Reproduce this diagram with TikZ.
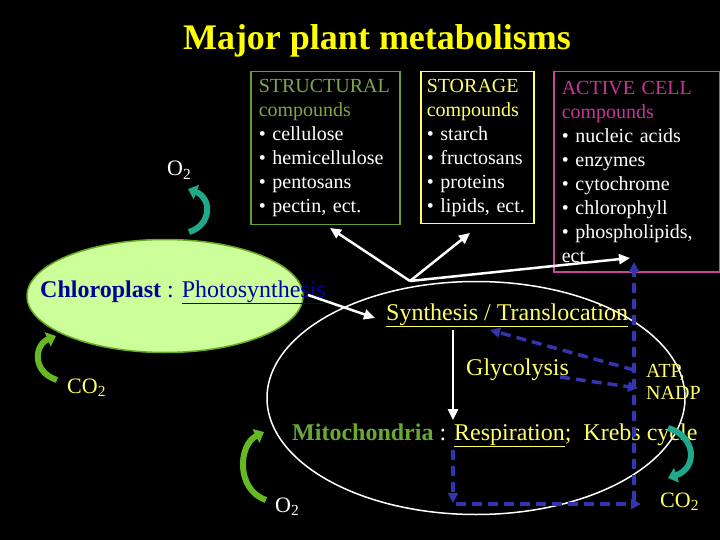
\documentclass[tikz,border=0pt]{standalone}
\usepackage{fontspec}
\setmainfont{Liberation Serif}
\usepackage{xcolor}
\usetikzlibrary{shapes.geometric, arrows.meta, positioning}
\definecolor{structgreen}{HTML}{5FA02E}
\definecolor{structtext}{HTML}{7FA648}
\definecolor{storeyellow}{HTML}{FFFF66}
\definecolor{activepink}{HTML}{C8479A}
\definecolor{activetext}{HTML}{CC3399}
\definecolor{chlorofill}{HTML}{CCFF99}
\definecolor{chloroline}{HTML}{66AA22}
\definecolor{chloroblue}{HTML}{000099}
\definecolor{photoblue}{HTML}{0000AA}
\definecolor{dashblue}{HTML}{3434B0}
\definecolor{tealarrow}{HTML}{1FA88A}
\definecolor{leafarrow}{HTML}{66B922}
\definecolor{mitogreen}{HTML}{66AA33}
\definecolor{titleyellow}{HTML}{FFFF00}
\definecolor{labelyellow}{HTML}{FFFF66}
\tikzstyle{compbox} = [draw, line width=1.5pt, anchor=north west, align=left, inner xsep=8pt, inner ysep=0pt, text=white, font=\fontsize{20}{24}\selectfont]
\tikzstyle{yellowtext} = [text=labelyellow, inner sep=0pt, anchor=base west, font=\fontsize{24}{28}\selectfont]
\tikzstyle{gas} = [inner sep=0pt, anchor=base west, font=\fontsize{22}{24}\selectfont]
\tikzstyle{warrow} = [white, line width=2.5pt, -{Triangle[length=11pt,width=10pt]}]
\tikzstyle{bdash} = [dashblue, line width=3.5pt, dash pattern=on 10pt off 6pt, -{Triangle[length=10pt,width=10pt]}]
\tikzstyle{curl} = [line width=6pt, -{Triangle[length=9pt,width=15pt]}]

\begin{document}
\begin{tikzpicture}[x=1pt, y=-1pt]
    \fill[black] (0,0) rectangle (720,540);
    \useasboundingbox (0,0) rectangle (720,540);

            % Nodes
            \node (title) [anchor=base, text=titleyellow, font=\fontsize{36}{40}\selectfont\bfseries] at (377,50) {Major plant metabolisms};

            \node (structural) [compbox, draw=structgreen, text width=133pt, minimum height=153pt] at (250,71) {\textcolor{structtext}{STRUCTURAL}\\\textcolor{structtext}{compounds}\\• cellulose\\• hemicellulose\\• pentosans\\• pectin, ect.};
            \node (storage) [compbox, draw=storeyellow, inner xsep=6pt, text width=101pt, minimum height=152pt] at (420,71) {\textcolor{storeyellow}{STORAGE}\\\textcolor{storeyellow}{compounds}\\• starch\\• fructosans\\• proteins\\\mbox{• lipids, ect.}};
            \node (active) [compbox, draw=activepink, text width=150pt, minimum height=200pt] at (553,71) {\textcolor{activetext}{ACTIVE CELL}\\\textcolor{activetext}{compounds}\\• nucleic acids\\• enzymes\\• cytochrome\\• chlorophyll\\• phospholipids,\\ect};

            \node (chloro) [ellipse, fill=chlorofill, draw=chloroline, line width=1.5pt, minimum width=276pt, minimum height=113pt] at (165,296) {};
            \node (photo) [anchor=base west, inner sep=0pt, font=\fontsize{24}{28}\selectfont] at (40,297) {\textcolor{chloroblue}{\textbf{Chloroplast} :} \textcolor{photoblue}{\underline{Photosynthesis}}};

            \node (cell) [ellipse, draw=white, line width=1.5pt, minimum width=418pt, minimum height=233pt] at (476,398) {};

            \node (synth) [yellowtext] at (386,320) {\underline{Synthesis / Translocation}};
            \node (glyco) [yellowtext] at (466,375) {Glycolysis};
            \node (atp) [anchor=north west, text=labelyellow, align=left, inner sep=0pt, font=\fontsize{20}{22}\selectfont] at (646,364) {ATP,\\NADP};
            \node (mito) [yellowtext] at (292,440) {\textcolor{mitogreen}{\textbf{Mitochondria}} \textcolor{white}{:} \underline{Respiration};~ Krebs cycle};

            \node (o2top) [gas, text=white] at (167,176) {O\textsubscript{2}};
            \node (co2left) [gas, text=labelyellow] at (67,393) {CO\textsubscript{2}};
            \node (o2bot) [gas, text=white] at (275,512) {O\textsubscript{2}};
            \node (co2right) [gas, text=labelyellow] at (660,507) {CO\textsubscript{2}};

            \coordinate (hub) at (410,281);
            \coordinate (toStruct) at (330,228);
            \coordinate (toStore) at (470,233);
            \coordinate (toActive) at (630,258);
            \coordinate (photoEnd) at (308,295);
            \coordinate (synthIn) at (375,318);
            \coordinate (glycoTop) at (453,330);
            \coordinate (glycoBot) at (453,420);
            \coordinate (atpIn) at (634,370);
            \coordinate (synthBack) at (490,330);
            \coordinate (glycoOut) at (560,377);
            \coordinate (atpEnd) at (638,388);
            \coordinate (respOut) at (453,450);
            \coordinate (respDown) at (453,503);
            \coordinate (baseLeft) at (456,504);
            \coordinate (baseRight) at (641,504);
            \coordinate (riseFoot) at (634,501);
            \coordinate (riseTop) at (634,262);

            % Arrows
            \draw [warrow] (hub) -- (toStruct);
            \draw [warrow] (hub) -- (toStore);
            \draw [warrow] (hub) -- (toActive);
            \draw [warrow] (photoEnd) -- (synthIn);
            \draw [warrow] (glycoTop) -- (glycoBot);

            \draw [bdash] (atpIn) -- (synthBack);
            \draw [bdash] (glycoOut) -- (atpEnd);
            \draw [bdash] (respOut) -- (respDown);
            \draw [bdash] (baseLeft) -- (baseRight);
            \draw [bdash] (riseFoot) -- (riseTop);

            \draw [curl, tealarrow] (189,232) .. controls (212,225) and (212,198) .. (188,189);
            \draw [curl, leafarrow] (57,380) .. controls (32,372) and (34,345) .. (56,336);
            \draw [curl, leafarrow] (266,500) .. controls (236,490) and (238,445) .. (264,432);
            \draw [curl, tealarrow] (668,428) .. controls (696,436) and (698,468) .. (668,478);

\end{tikzpicture}
\end{document}
